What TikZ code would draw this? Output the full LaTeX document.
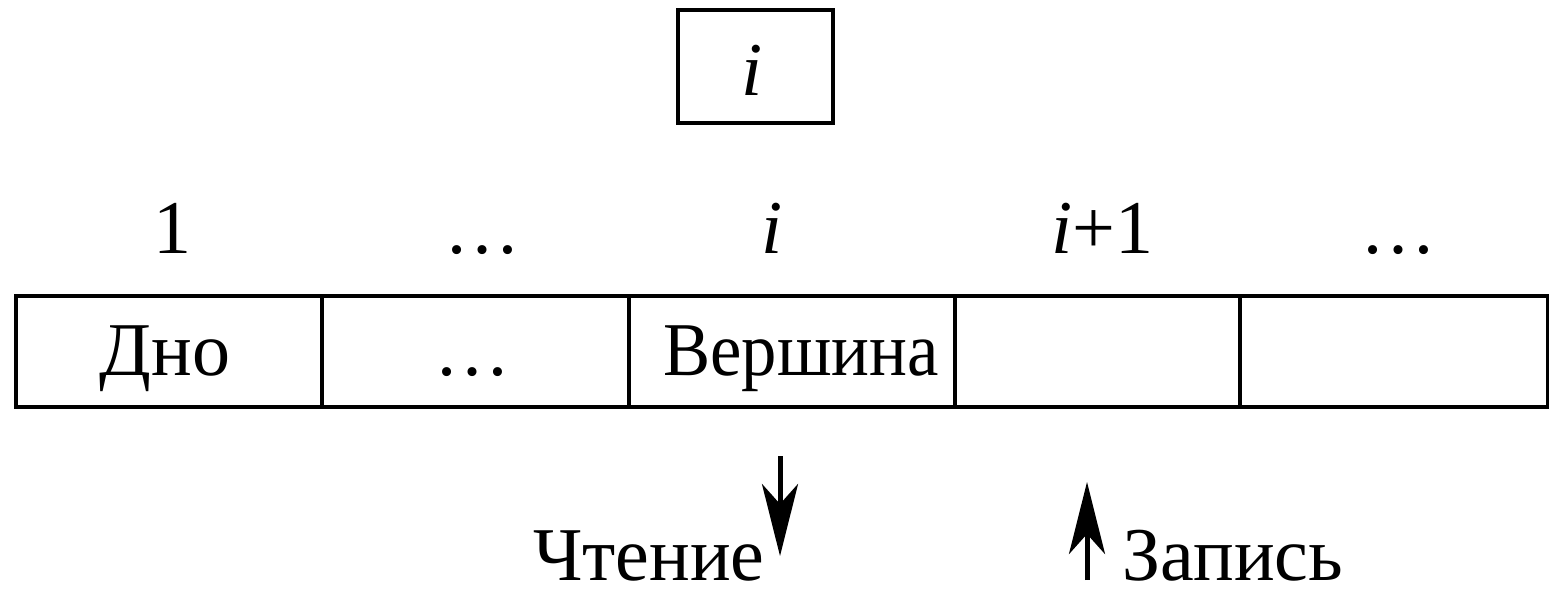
\documentclass[tikz,border=0pt]{standalone}
\usepackage{fontspec}
\setmainfont{Liberation Serif}
\usetikzlibrary{arrows.meta}
\begin{document}
\begin{tikzpicture}[x=1pt,y=-1pt,
  every node/.style={font=\fontsize{76}{80}\selectfont, inner sep=0pt},
  frame/.style={draw, line width=4pt},
  cell/.style={frame, rectangle, minimum height=111pt, anchor=north west},
  lbl/.style={anchor=base},
  rw/.style={line width=5pt, -{Stealth[length=72pt,width=36pt,inset=20pt]}}]
  \useasboundingbox (0,0) rectangle (1549,598);

  % index box on top
  \node[frame, minimum width=155pt, minimum height=113pt] (ibox) at (755.5,66.5) {};
  \node[lbl] (itop) at (752,95) {\textit{i}};

  % stack cells
  \node[cell, minimum width=306pt] (c1) at (14,294) {};
  \node[cell, minimum width=307pt] (c2) at (320,294) {};
  \node[cell, minimum width=326pt] (c3) at (627,294) {};
  \node[cell, minimum width=285pt] (c4) at (953,294) {};
  \node[cell, minimum width=308pt] (c5) at (1238,294) {};

  % cell indices
  \node[lbl] (n1) at (172,253) {1};
  \node[lbl] (n2) at (482,253) {\ldots};
  \node[lbl] (n3) at (772,253) {\textit{i}};
  \node[lbl] (n4) at (1102,253) {\textit{i}+1};
  \node[lbl] (n5) at (1398,253) {\ldots};

  % cell contents
  \node[lbl] (t1) at (165,375) {Дно};
  \node[lbl] (t2) at (472,375) {\ldots};
  \node[lbl, xscale=0.93] (t3) at (801,375) {Вершина};

  % read and write arrows
  \coordinate (rd1) at (780,456);
  \coordinate (rd2) at (780,556);
  \coordinate (wr1) at (1087,580);
  \coordinate (wr2) at (1087,482);
  \draw[rw] (rd1) -- (rd2);
  \draw[rw] (wr1) -- (wr2);

  \node[lbl] (rtxt) at (649,580) {Чтение};
  \node[lbl] (wtxt) at (1233,580) {Запись};
\end{tikzpicture}
\end{document}
